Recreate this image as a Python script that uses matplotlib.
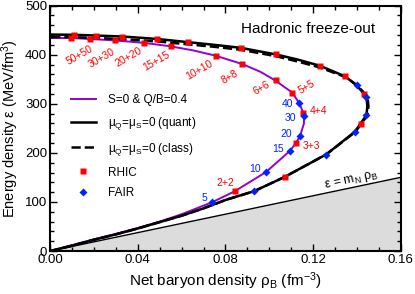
import numpy as np
import matplotlib.pyplot as plt
from matplotlib.ticker import MultipleLocator

plt.rcParams['font.family'] = ['Liberation Sans', 'DejaVu Sans']
plt.rcParams['mathtext.default'] = 'regular'

# freeze-out curves (rho_B in fm^-3, energy density in MeV/fm^3)
rho_sq = [0, 0.01, 0.02, 0.03, 0.04, 0.05, 0.06, 0.074, 0.0843, 0.0985, 0.1094, 0.112,
          0.114, 0.1158, 0.1158, 0.1155, 0.1136, 0.1105, 0.1027, 0.096, 0.0876, 0.0755,
          0.065, 0.055, 0.043, 0.0298, 0.0182, 0.0094, 0]
eps_sq = [0, 12, 24, 35, 47, 60, 75, 99.6, 122, 161, 204, 219,
          234, 260, 274.5, 282, 301.5, 322.6, 347.6, 365, 381, 398,
          409, 417, 424, 429, 432, 434, 434]

rho_quant = [0, 0.01, 0.02, 0.03, 0.04, 0.05, 0.06, 0.07, 0.08, 0.0931, 0.107, 0.126,
             0.139, 0.1443, 0.1447, 0.1443, 0.140, 0.1345, 0.123, 0.113, 0.103, 0.087,
             0.075, 0.063, 0.049, 0.033, 0.021, 0.011, 0]
eps_quant = [0, 11, 23, 34, 46, 59, 72, 87, 104, 122, 151, 197,
             243, 277, 295, 314, 337, 356, 377.5, 390, 400.5, 414,
             420, 425.5, 432, 437, 439, 440.5, 441]

rho_class = [0, 0.01, 0.02, 0.03, 0.04, 0.05, 0.06, 0.07, 0.08, 0.0931, 0.107, 0.126,
             0.1393, 0.1448, 0.1452, 0.1448, 0.1405, 0.135, 0.123, 0.113, 0.103, 0.087,
             0.075, 0.063, 0.049, 0.033, 0.021, 0.011, 0]
eps_class = [0, 11, 23, 34, 46, 59, 72, 87, 104, 122, 151, 197,
             243, 277, 295, 314, 336, 354, 374, 386, 397, 410,
             416, 421, 427, 431.5, 434, 435.5, 436]

# RHIC points (red squares)
rhic_labels = ['', '50+50', '30+30', '20+20', '15+15', '10+10', '8+8', '6+6',
               '5+5', '4+4', '3+3', '2+2']
rhic_rho_sq = [0.0094, 0.0182, 0.0298, 0.043, 0.055, 0.0755, 0.0876, 0.103,
               0.1105, 0.1155, 0.112, 0.0843]
rhic_eps_sq = [434, 432, 429, 424, 417, 398, 381, 348, 322.6, 282, 220, 122]
rhic_rho_q = [0.0109, 0.021, 0.033, 0.0489, 0.063, 0.0869, 0.103, 0.123,
              0.1345, 0.143, 0.142, 0.107]
rhic_eps_q = [440.5, 439, 437, 432, 425.5, 414, 400.5, 377.5, 356, 320.6, 259.6, 151]
rhic_lab_rho = [None, 0.0137, 0.0236, 0.0357, 0.0486, 0.068, 0.082, 0.0965,
                0.117, 0.1225, 0.1193, 0.0798]
rhic_lab_eps = [None, 400, 393, 395, 386, 369, 354, 333, 334, 285, 214, 139]
rhic_lab_rot = [0, 30, 30, 30, 30, 30, 30, 30, 30, 0, 0, 0]

# FAIR points (blue diamonds)
fair_labels = ['40', '30', '20', '15', '10', '5']
fair_rho_sq = [0.1136, 0.1158, 0.114, 0.1094, 0.0985, 0.074]
fair_eps_sq = [301.5, 274.5, 234, 204, 161, 99.6]
fair_rho_q = [0.140, 0.1443, 0.1443, 0.139, 0.126, 0.0931]
fair_eps_q = [337.5, 313.7, 276.5, 242.6, 195, 122]
fair_lab_rho = [0.1082, 0.1094, 0.1079, 0.1041, 0.0934, 0.0702]
fair_lab_eps = [300, 272, 238, 208, 168, 109]

m_N = 939.0
purple = '#9400d3'
red = '#ff0000'
blue = '#0022ff'

fig = plt.figure(figsize=(4.15, 2.94), dpi=100)
ax = fig.add_axes([0.1205, 0.146, 0.8455, 0.835])

# eps = m_N rho_B bound
xb = np.array([0, 0.16])
ax.fill_between(xb, 0, m_N * xb, color='#dcdcdc', lw=0, zorder=0)
ax.plot(xb, m_N * xb, color='black', lw=1.0, zorder=1)

ax.plot(rho_sq, eps_sq, color=purple, lw=1.4, label='S=0 & Q/B=0.4', zorder=2)
ax.plot(rho_quant, eps_quant, color='black', lw=1.8,
        label='$\\mu_{Q}$=$\\mu_{S}$=0 (quant)', zorder=3)
ax.plot(rho_class, eps_class, color='black', lw=1.8, ls='--',
        label='$\\mu_{Q}$=$\\mu_{S}$=0 (class)', zorder=3)

ax.plot(rhic_rho_sq + rhic_rho_q, rhic_eps_sq + rhic_eps_q, 's', color=red,
        ms=5, mec='none', label='RHIC', zorder=5)
ax.plot(fair_rho_sq + fair_rho_q, fair_eps_sq + fair_eps_q, 'D', color=blue,
        ms=4, mec='none', label='FAIR', zorder=5)

for lab, x, y, r in zip(rhic_labels, rhic_lab_rho, rhic_lab_eps, rhic_lab_rot):
    if lab:
        ax.text(x, y, lab, color=red, fontsize=7.5, rotation=r,
                ha='center', va='center', rotation_mode='anchor')
for lab, x, y in zip(fair_labels, fair_lab_rho, fair_lab_eps):
    ax.text(x, y, lab, color=blue, fontsize=7.5, ha='center', va='center')

ax.text(0.1376, 143, '\u03b5 = m$_{N}$ \u03c1$_{B}$', fontsize=9, rotation=12,
        ha='center', va='center', rotation_mode='anchor')
ax.text(0.1175, 452, 'Hadronic freeze-out', fontsize=11, ha='center', va='center')

ax.legend(loc='upper left', bbox_to_anchor=(0.06, 0.64), frameon=False,
          fontsize=8.5, handlelength=2.1, handletextpad=1.0, labelspacing=0.75,
          borderpad=0, borderaxespad=0)

ax.set_xlim(0, 0.16)
ax.set_ylim(0, 500)
ax.xaxis.set_major_locator(MultipleLocator(0.04))
ax.xaxis.set_minor_locator(MultipleLocator(0.01))
ax.yaxis.set_major_locator(MultipleLocator(100))
ax.yaxis.set_minor_locator(MultipleLocator(20))
ax.xaxis.set_major_formatter(plt.FormatStrFormatter('%.2f'))
ax.tick_params(which='both', direction='in', top=True, right=True, labelsize=9.5,
               width=1.0, pad=2)
ax.tick_params(which='major', length=5)
ax.tick_params(which='minor', length=3)
for s in ax.spines.values():
    s.set_linewidth(1.5)

ax.set_xlabel('Net baryon density \u03c1$_{B}$ (fm$^{-3}$)', fontsize=11, labelpad=3)
ax.set_ylabel('Energy density \u03b5 (MeV/fm$^{3}$)', fontsize=10.5, labelpad=3)

fig.savefig('out.png', dpi=100)
